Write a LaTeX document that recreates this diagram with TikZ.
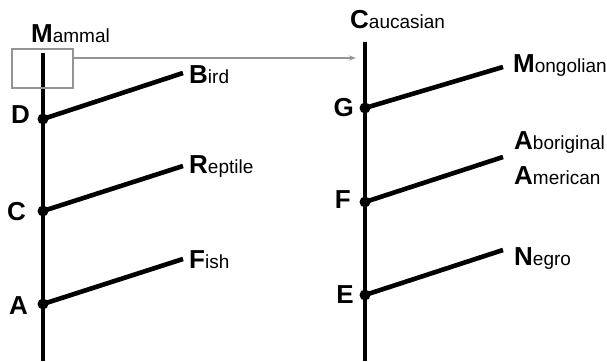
\documentclass[tikz,border=0pt]{standalone}
\usepackage{fontspec}
\setmainfont{Liberation Sans}
\usetikzlibrary{arrows.meta}
\newcommand\initl[1]{{\fontsize{26}{28}\selectfont\bfseries #1}}
\begin{document}
\begin{tikzpicture}[x=1pt,y=-1pt,
  trunk/.style={line width=4.6pt},
  branch/.style={line width=4.6pt},
  dot/.style={circle,fill=black,inner sep=0pt,minimum size=11pt},
  letter/.style={anchor=base east,inner sep=0pt,font=\fontsize{26}{28}\selectfont\bfseries},
  taxon/.style={anchor=base west,inner sep=0pt,font=\fontsize{19}{22}\selectfont},
  grayline/.style={draw=black!42,line width=1.3pt},
  hilite/.style={grayline,fill=none,inner sep=0pt,minimum width=61pt,minimum height=39pt}
]
\useasboundingbox (0,0) rectangle (607,361);

% left tree
\coordinate (ltop) at (43,53);
\coordinate (lbot) at (43,361);
\draw[trunk] (ltop) -- (lbot);
\node[hilite] (box) at (42.5,68.5) {};

\node[dot] (D) at (43,119) {};
\node[dot] (C) at (43,211) {};
\node[dot] (A) at (43,304) {};
\coordinate (bird) at (183,73);
\coordinate (reptile) at (183,166);
\coordinate (fish) at (183,259);
\draw[branch] (D.center) -- (bird);
\draw[branch] (C.center) -- (reptile);
\draw[branch] (A.center) -- (fish);

\node[letter] (lD) at (30,123) {D};
\node[letter] (lC) at (26,220) {C};
\node[letter] (lA) at (28,314) {A};

\node[taxon] (tmammal) at (31,42) {\initl{M}ammal};
\node[taxon] (tbird) at (189,83) {\initl{B}ird};
\node[taxon] (treptile) at (189,173) {\initl{R}eptile};
\node[taxon] (tfish) at (189,268) {\initl{F}ish};

% right tree
\coordinate (rtop) at (365,42);
\coordinate (rbot) at (365,361);
\draw[trunk] (rtop) -- (rbot);

\node[dot] (G) at (365,108) {};
\node[dot] (F) at (365,202) {};
\node[dot] (E) at (365,295) {};
\coordinate (mong) at (503,67);
\coordinate (abor) at (503,157);
\coordinate (negro) at (503,250);
\draw[branch] (G.center) -- (mong);
\draw[branch] (F.center) -- (abor);
\draw[branch] (E.center) -- (negro);

\node[letter] (lG) at (354,116) {G};
\node[letter] (lF) at (351,208) {F};
\node[letter] (lE) at (354,303) {E};

\node[taxon] (tcauc) at (350,29) {\initl{C}aucasian};
\node[taxon] (tmong) at (513,72) {\initl{M}ongolian};
\node[taxon] (tabor) at (514,149) {\initl{A}boriginal};
\node[taxon] (tamer) at (514,184) {\initl{A}merican};
\node[taxon] (tnegro) at (514,265) {\initl{N}egro};

% arrow
\coordinate (tip) at (356,58);
\draw[grayline,-{Stealth[length=7pt,width=5pt]}] (box.east |- tip) -- (tip);
\end{tikzpicture}
\end{document}
